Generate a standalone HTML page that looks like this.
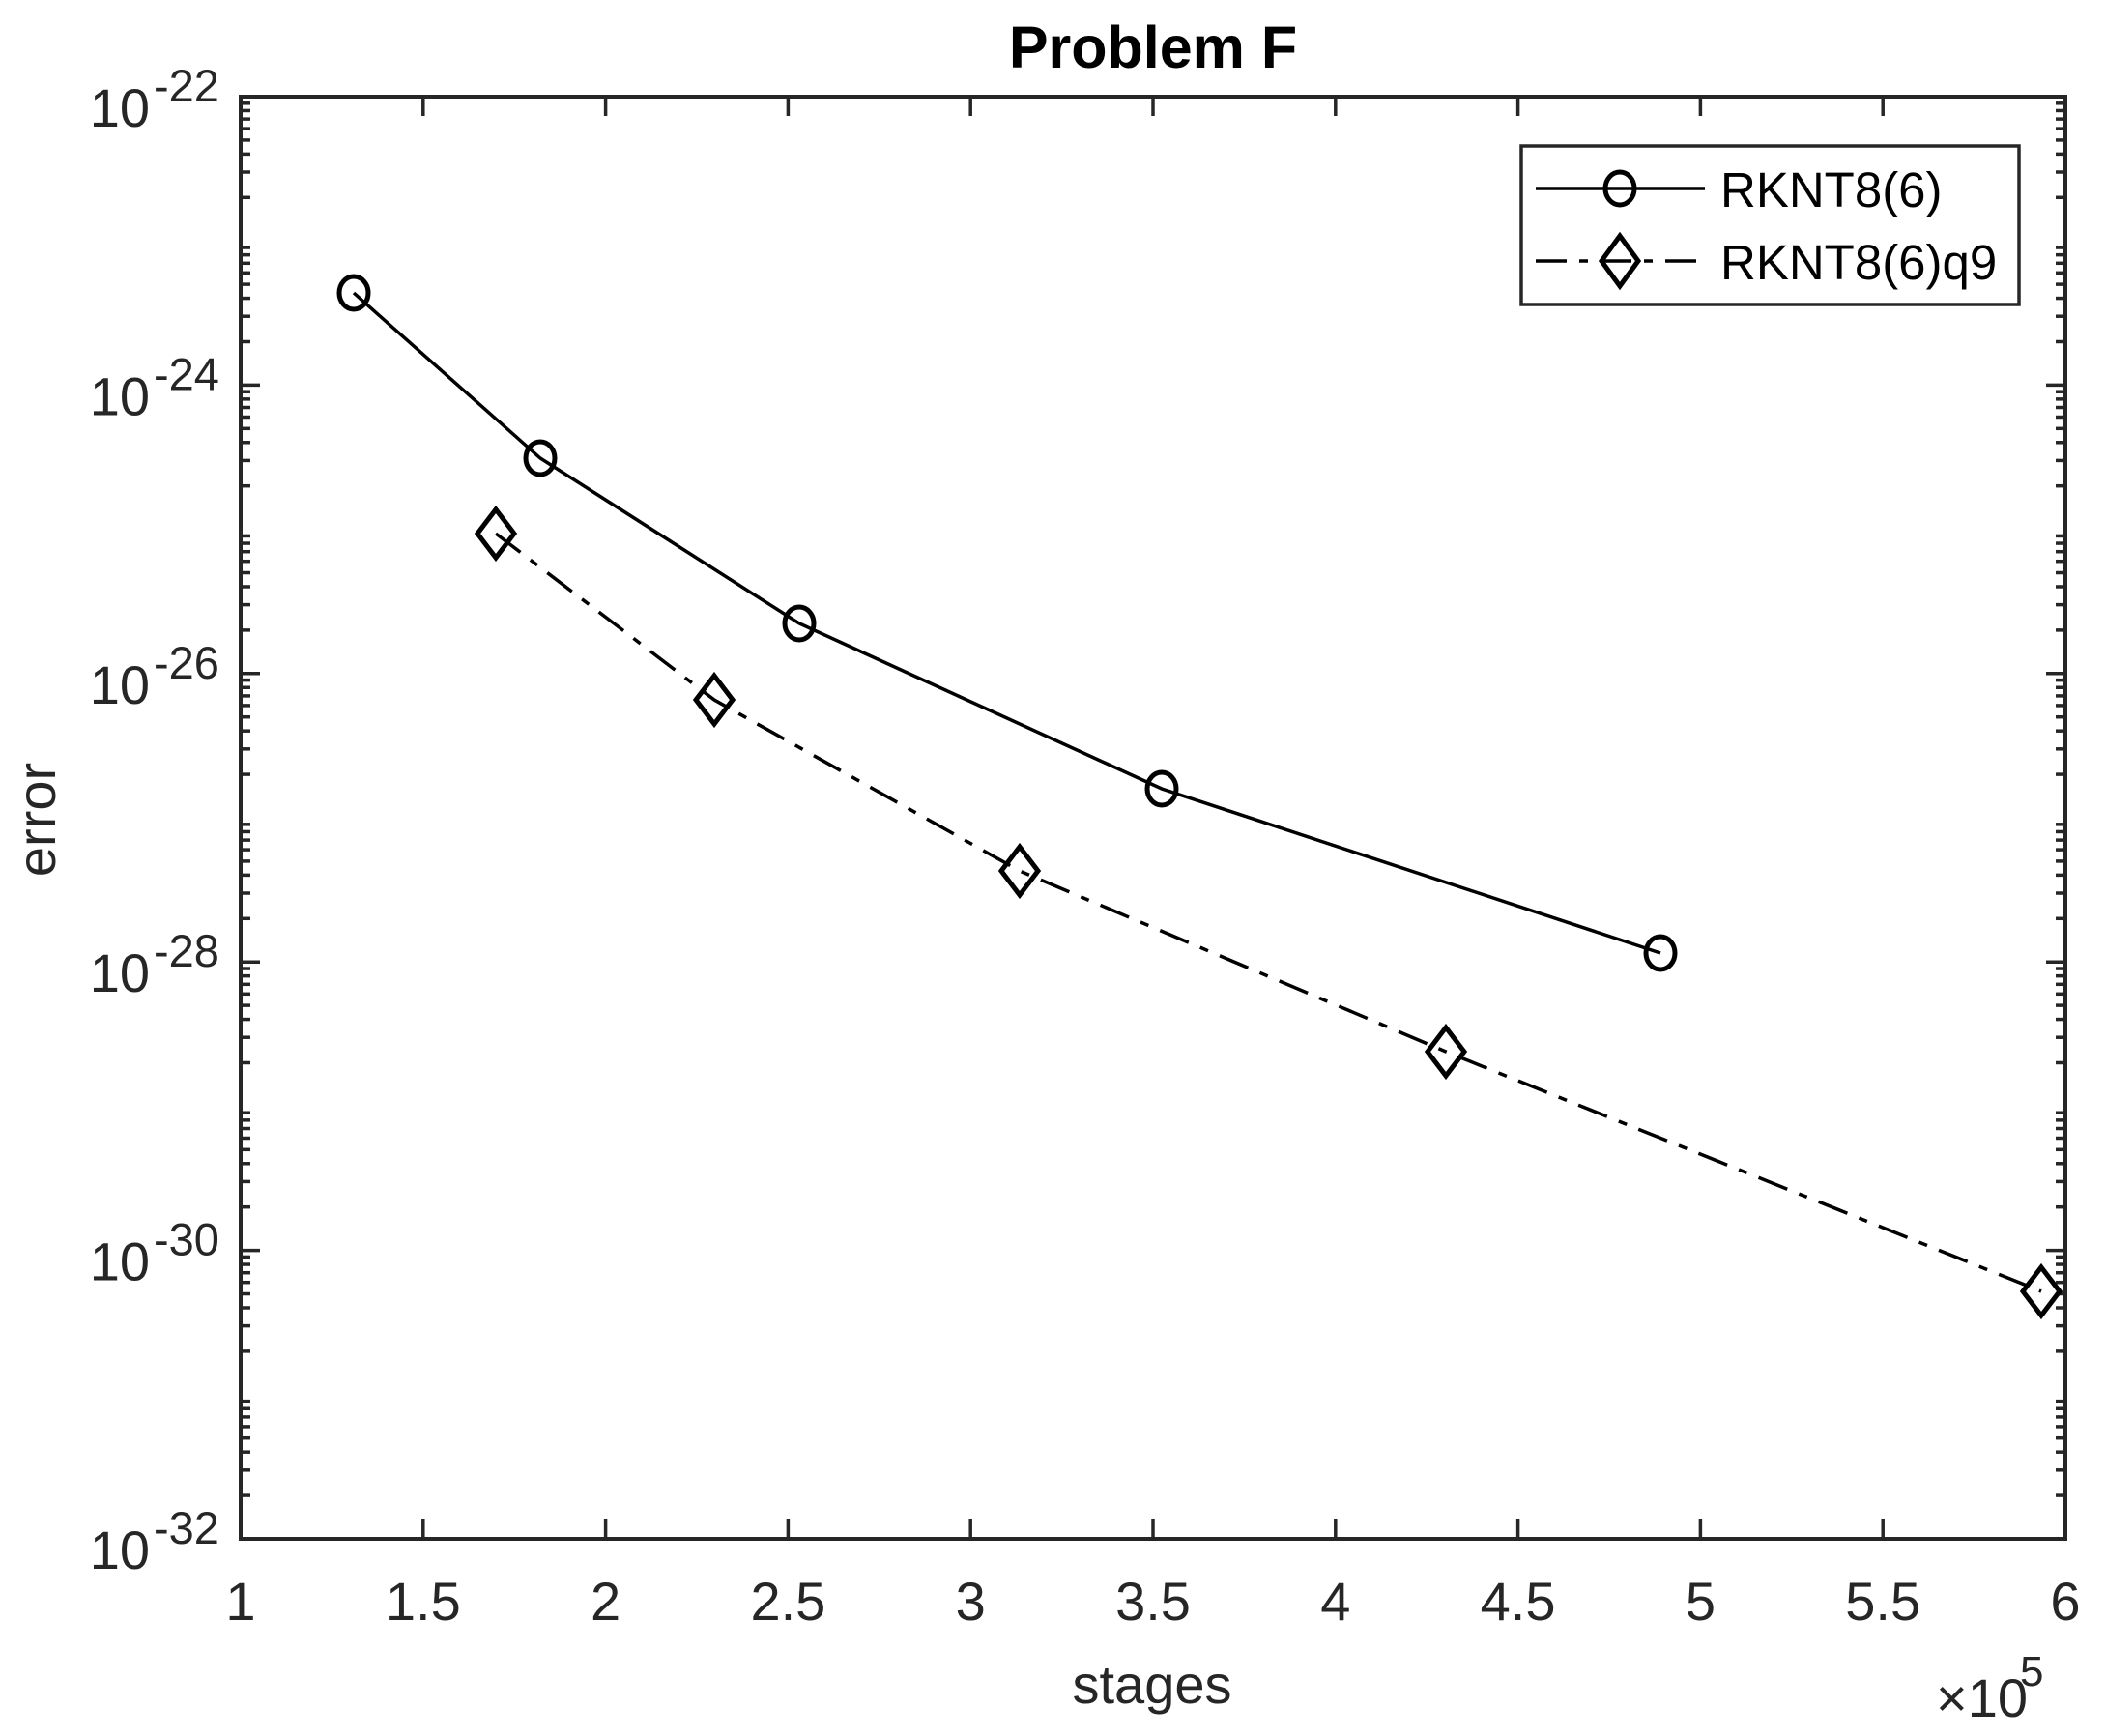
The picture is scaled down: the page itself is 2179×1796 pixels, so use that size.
<!DOCTYPE html>
<html><head><meta charset="utf-8"><style>
html,body{margin:0;padding:0;background:#fff;}
svg{display:block;}
text{font-family:"Liberation Sans",Arial,sans-serif;fill:#262626;}
</style></head><body>
<svg id="s" width="2179" height="1796" viewBox="0 0 2179 1796" xmlns="http://www.w3.org/2000/svg">
<rect width="2179" height="1796" fill="#fff"/>
<g id="ticks" stroke="#262626" stroke-width="3.5"></g>
<rect x="249" y="100" width="1888" height="1492" fill="none" stroke="#262626" stroke-width="4"/>
<g id="labels" font-size="56"></g>
<text x="1193" y="70" font-size="61" font-weight="bold" text-anchor="middle" style="fill:#000">Problem F</text>
<text x="1192" y="1762" font-size="56" text-anchor="middle">stages</text>
<text transform="translate(57,848) rotate(-90)" font-size="56" text-anchor="middle">error</text>
<text x="2003" y="1776" font-size="56">×10</text>
<text x="2090" y="1744" font-size="44">5</text>
<polyline points="366,303 559,474 827,645 1202,816 1718,986" fill="none" stroke="#000" stroke-width="3.5"/>
<polyline points="513,552 739,724 1055,901 1496,1088 2112,1336" fill="none" stroke="#000" stroke-width="3.5" stroke-dasharray="32,13,9,13"/>
<g fill="none" stroke="#000" stroke-width="5">
<ellipse cx="366" cy="303" rx="15" ry="17"/>
<ellipse cx="559" cy="474" rx="15" ry="17"/>
<ellipse cx="827" cy="645" rx="15" ry="17"/>
<ellipse cx="1202" cy="816" rx="15" ry="17"/>
<ellipse cx="1718" cy="986" rx="15" ry="17"/>
<path d="M513,527 L532,552 L513,577 L494,552 Z"/>
<path d="M739,699 L758,724 L739,749 L720,724 Z"/>
<path d="M1055,876 L1074,901 L1055,926 L1036,901 Z"/>
<path d="M1496,1063 L1515,1088 L1496,1113 L1477,1088 Z"/>
<path d="M2112,1311 L2131,1336 L2112,1361 L2093,1336 Z"/>
</g>
<rect x="1574" y="151" width="515" height="164" fill="#fff" stroke="#262626" stroke-width="3.5"/>
<line x1="1589" y1="195" x2="1764" y2="195" stroke="#000" stroke-width="3.5"/>
<ellipse cx="1676" cy="195" rx="15" ry="17" fill="none" stroke="#000" stroke-width="5"/>
<line x1="1589" y1="270" x2="1764" y2="270" stroke="#000" stroke-width="3.5" stroke-dasharray="32,13,9,13"/>
<path d="M1676,244 L1695,270 L1676,296 L1657,270 Z" fill="none" stroke="#000" stroke-width="5"/>
<text x="1780" y="214" font-size="51" style="fill:#000">RKNT8(6)</text>
<text x="1780" y="289" font-size="51" style="fill:#000">RKNT8(6)q9</text>
</svg>
<script>
var NS="http://www.w3.org/2000/svg";
var T=document.getElementById("ticks"),L=document.getElementById("labels");
function ln(x1,y1,x2,y2){var e=document.createElementNS(NS,"line");e.setAttribute("x1",x1);e.setAttribute("y1",y1);e.setAttribute("x2",x2);e.setAttribute("y2",y2);T.appendChild(e);}
function tx(x,y,s,a,fs){var e=document.createElementNS(NS,"text");e.setAttribute("x",x);e.setAttribute("y",y);e.setAttribute("text-anchor",a);if(fs)e.setAttribute("font-size",fs);e.textContent=s;L.appendChild(e);return e;}
var x0=249,x1=2137,y0=100,y1=1592;
for(var i=0;i<=10;i++){var v=1+i*0.5;var x=x0+(v-1)*(x1-x0)/5;
 ln(x,y1,x,y1-20);ln(x,y0,x,y0+20);
 tx(x,1676,(v%1===0)?String(v):v.toFixed(1),"middle");}
var dec=(y1-y0)/10;
for(var d=0;d<10;d++){var yb=y1-d*dec;
 for(var k=2;k<=9;k++){var y=yb-Math.log10(k)*dec;ln(x0,y,x0+10,y);ln(x1,y,x1-10,y);}}
for(var d=0;d<=10;d+=2){var y=y1-d*dec;ln(x0,y,x0+20,y);ln(x1,y,x1-20,y);
 tx(155,y+31,"10","end");tx(159,y+5,"-"+(32-d),"start",47);}
</script>
</body></html>
